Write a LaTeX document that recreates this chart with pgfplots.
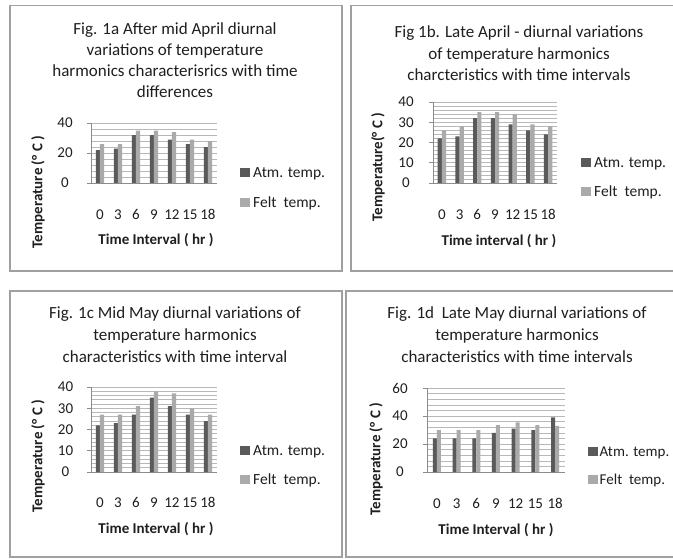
\documentclass[border=0pt]{standalone}
\usepackage{fontspec}
\setmainfont{Carlito}
\usepackage{pgfplots}
\pgfplotsset{compat=1.18}
\definecolor{atm}{HTML}{5A5A5A}
\definecolor{felt}{HTML}{AAAAAA}
\definecolor{frame}{HTML}{A0A0A0}
\definecolor{gridc}{HTML}{B8B8B8}
\definecolor{txt}{HTML}{1F1F1F}
\pgfplotsset{
  sqlegend/.style={legend image code/.code={\fill[##1] (0pt,-4.5pt) rectangle (10pt,4.5pt);}},
  panel/.style={
    scale only axis,
    ybar=0pt, bar width=4.2pt,
    xmin=-0.5, xmax=6.5, xtick={0,...,6}, xticklabels={0,3,6,9,12,15,18},
    ymin=0,
    axis lines=left, axis line style={-, draw=black!45, line width=0.8pt},
    ymajorgrids, yminorgrids, minor y tick num=4,
    major grid style={draw=gridc, line width=0.6pt},
    minor grid style={draw=gridc, line width=0.6pt},
    xtick style={draw=none},
    ytick style={draw=black!45, line width=0.8pt},
    tick align=outside, major tick length=4pt, minor tick length=0pt,
    ticklabel style={font=\fontsize{15}{18}\selectfont, text=txt},
    /pgf/number format/assume math mode=true,
    yticklabel style={anchor=center},
    legend cell align=left,
    legend style={font=\fontsize{15.5}{18}\selectfont, text=txt, draw=none, fill=none,
      inner sep=0pt, column sep=3pt, anchor=west,
      nodes={inner sep=0pt, text height=12.5pt, text depth=2.5pt}},
    every axis plot post/.append style={sqlegend},
  }
}
\begin{document}
\begin{tikzpicture}
\useasboundingbox (0pt,0pt) rectangle (673pt,558pt);
\fill[white] (0pt,0pt) rectangle (673pt,558pt);
% panel frames
\draw[frame, line width=1.3pt] (10pt,552.5pt) rectangle (342pt,287pt);
\draw[frame, line width=1.3pt] (351pt,552.5pt) rectangle (690pt,287pt);
\draw[frame, line width=1.3pt] (10pt,267pt) rectangle (342pt,1pt);
\draw[frame, line width=1.3pt] (346pt,267pt) rectangle (690pt,1pt);

% ---------- 1a ----------
\begin{axis}[panel, at={(91pt,375pt)}, anchor=south west, width=126pt, height=60pt,
  ymax=40, ytick={0,20,40},
  xticklabel style={anchor=base, yshift=-33pt},
  yticklabel style={xshift=-22pt},
  legend style={at={(1.1825,-0.0833)}, row sep=15pt}]
\addplot[fill=atm, draw=none] coordinates {(0,22) (1,23) (2,32) (3,32) (4,29) (5,26) (6,24)};
\addplot[fill=felt, draw=none] coordinates {(0,26) (1,26) (2,35) (3,35) (4,34) (5,29) (6,28)};
\legend{Atm. temp., Felt~ temp.}
\end{axis}
\begin{scope}[every node/.style={anchor=base, font=\fontsize{17}{21}\selectfont, text=txt}]
\node at (175pt,523pt) {Fig. 1a After mid April diurnal};
\node at (175pt,502pt) {variations of temperature};
\node at (175pt,481pt) {harmonics characterisrics with time};
\node at (175pt,460pt) {differences};
\end{scope}
\node[anchor=base, font=\bfseries\fontsize{15}{18}\selectfont, text=txt] at (156pt,313pt) {Time Interval ( hr )};
\node[rotate=90, font=\bfseries\fontsize{15}{18}\selectfont, text=txt] at (38pt,366pt) {Temperature (° C )};

% ---------- 1b ----------
\begin{axis}[panel, at={(433pt,375pt)}, anchor=south west, width=124pt, height=81pt,
  ymax=40, ytick={0,10,20,30,40},
  xticklabel style={anchor=base, yshift=-33pt},
  yticklabel style={xshift=-23pt},
  legend style={at={(1.1935,0.0679)}, row sep=14pt}]
\addplot[fill=atm, draw=none] coordinates {(0,22) (1,23) (2,32) (3,32) (4,29) (5,26) (6,24)};
\addplot[fill=felt, draw=none] coordinates {(0,26) (1,28) (2,35) (3,35) (4,34) (5,29) (6,28)};
\legend{Atm. temp., Felt~ temp.}
\end{axis}
\begin{scope}[every node/.style={anchor=base, font=\fontsize{17}{21}\selectfont, text=txt}]
\node at (519pt,520.7pt) {Fig 1b. Late April - diurnal variations};
\node at (519pt,498.7pt) {of temperature harmonics};
\node at (519pt,477pt) {charcteristics with time intervals};
\end{scope}
\node[anchor=base, font=\bfseries\fontsize{15}{18}\selectfont, text=txt] at (499pt,312pt) {Time interval ( hr )};
\node[rotate=90, font=\bfseries\fontsize{15}{18}\selectfont, text=txt] at (378pt,391pt) {Temperature(° C )};

% ---------- 1c ----------
\begin{axis}[panel, at={(91pt,86pt)}, anchor=south west, width=126pt, height=85pt,
  ymax=40, ytick={0,10,20,30,40},
  xticklabel style={anchor=base, yshift=-31pt},
  yticklabel style={xshift=-21.5pt},
  legend style={at={(1.1825,0.0765)}, row sep=14pt}]
\addplot[fill=atm, draw=none] coordinates {(0,22) (1,23) (2,27) (3,35) (4,31) (5,27) (6,24)};
\addplot[fill=felt, draw=none] coordinates {(0,27) (1,27) (2,31) (3,38) (4,37) (5,30) (6,27)};
\legend{Atm. temp., Felt~ temp.}
\end{axis}
\begin{scope}[every node/.style={anchor=base, font=\fontsize{17}{21}\selectfont, text=txt}]
\node at (175pt,239pt) {Fig. 1c Mid May diurnal variations of};
\node at (175pt,217pt) {temperature harmonics};
\node at (175pt,196pt) {characteristics with time interval};
\end{scope}
\node[anchor=base, font=\bfseries\fontsize{15}{18}\selectfont, text=txt] at (156pt,25pt) {Time Interval ( hr )};
\node[rotate=90, font=\bfseries\fontsize{15}{18}\selectfont, text=txt] at (38pt,102pt) {Temperature (° C )};

% ---------- 1d ----------
\begin{axis}[panel, at={(427pt,86pt)}, anchor=south west, width=138pt, height=84pt,
  ymax=60, ytick={0,20,40,60}, bar width=4pt,
  xticklabel style={anchor=base, yshift=-32pt},
  yticklabel style={xshift=-23pt},
  legend style={at={(1.163,0.0833)}, row sep=13pt, column sep=2pt,
    font=\fontsize{15}{18}\selectfont}]
\addplot[fill=atm, draw=none] coordinates {(0,24) (1,24) (2,24) (3,28) (4,31) (5,30) (6,39)};
\addplot[fill=felt, draw=none] coordinates {(0,30) (1,30) (2,30) (3,33.5) (4,35.5) (5,33.5) (6,33)};
\legend{Atm. temp., Felt~ temp.}
\end{axis}
\begin{scope}[every node/.style={anchor=base, font=\fontsize{17}{21}\selectfont, text=txt}]
\node at (517pt,239pt) {Fig. 1d~ Late May diurnal variations of};
\node at (517pt,217pt) {temperature harmonics};
\node at (517pt,196pt) {characteristics with time intervals};
\end{scope}
\node[anchor=base, font=\bfseries\fontsize{15}{18}\selectfont, text=txt] at (496pt,24pt) {Time Interval ( hr )};
\node[rotate=90, font=\bfseries\fontsize{15}{18}\selectfont, text=txt] at (376pt,99pt) {Temperature (° C )};
\end{tikzpicture}
\end{document}
